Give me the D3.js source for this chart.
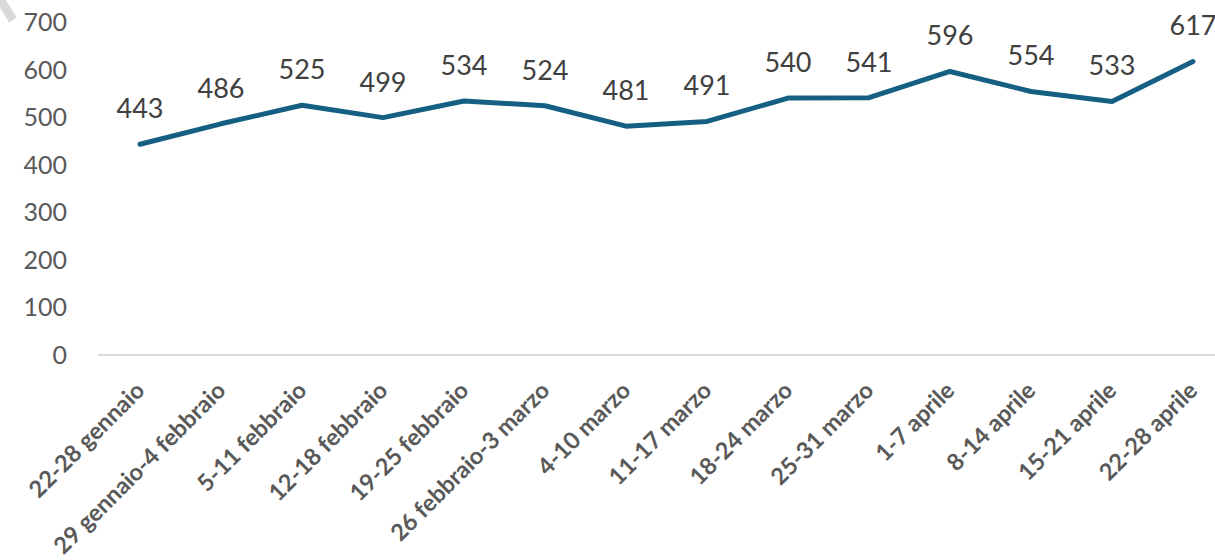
<!DOCTYPE html>
<html>
<head>
<meta charset="utf-8">
<script src="https://cdn.jsdelivr.net/npm/d3@7"></script>
<style>
  body { margin: 0; background: #fff; }
  text { font-family: Lato, "Open Sans", sans-serif; }
</style>
</head>
<body>
<div id="chart"></div>
<script>
// settimane e valori
const weeks = ["22-28 gennaio", "29 gennaio-4 febbraio", "5-11 febbraio", "12-18 febbraio",
  "19-25 febbraio", "26 febbraio-3 marzo", "4-10 marzo", "11-17 marzo", "18-24 marzo",
  "25-31 marzo", "1-7 aprile", "8-14 aprile", "15-21 aprile", "22-28 aprile"];
const values = [443, 486, 525, 499, 534, 524, 481, 491, 540, 541, 596, 554, 533, 617];
const yTicks = [0, 100, 200, 300, 400, 500, 600, 700];

const W = 1215, H = 560;

const svg = d3.select("#chart")
  .append("svg")
  .attr("width", W)
  .attr("height", H);

const x = d3.scalePoint()
  .domain(weeks)
  .range([140, 1193]);

const y = d3.scaleLinear()
  .domain([0, 700])
  .range([355, 22]);

// segno grigio in alto a sinistra
svg.append("line")
  .attr("x1", -2).attr("y1", -4)
  .attr("x2", 13).attr("y2", 20)
  .attr("stroke", "#d9d9d9")
  .attr("stroke-width", 9);

// asse y (solo etichette)
svg.append("g")
  .selectAll("text")
  .data(yTicks)
  .enter()
  .append("text")
  .attr("x", 67)
  .attr("y", d => y(d))
  .attr("dy", "0.36em")
  .attr("text-anchor", "end")
  .attr("fill", "#595959")
  .style("font-size", "25px")
  .text(d => d);

// linea di base
svg.append("line")
  .attr("x1", 98).attr("x2", W)
  .attr("y1", y(0)).attr("y2", y(0))
  .attr("stroke", "#d9d9d9")
  .attr("stroke-width", 2);

// etichette x ruotate
svg.append("g")
  .selectAll("text")
  .data(weeks)
  .enter()
  .append("text")
  .attr("transform", d => "translate(" + (x(d) + 6) + "," + 392 + ") rotate(-45)")
  .attr("text-anchor", "end")
  .attr("fill", "#595959")
  .style("font-size", "23.5px")
  .style("font-weight", "bold")
  .text(d => d);

// linea
const line = d3.line()
  .x((d, i) => x(weeks[i]))
  .y(d => y(d));

svg.append("path")
  .datum(values)
  .attr("fill", "none")
  .attr("stroke", "#156082")
  .attr("stroke-width", 5)
  .attr("stroke-linejoin", "round")
  .attr("stroke-linecap", "round")
  .attr("d", line);

// etichette dati
svg.append("g")
  .selectAll("text")
  .data(values)
  .enter()
  .append("text")
  .attr("x", (d, i) => x(weeks[i]))
  .attr("y", d => y(d) - 26)
  .attr("text-anchor", "middle")
  .attr("fill", "#404040")
  .style("font-size", "27px")
  .text(d => d);
</script>
</body>
</html>
